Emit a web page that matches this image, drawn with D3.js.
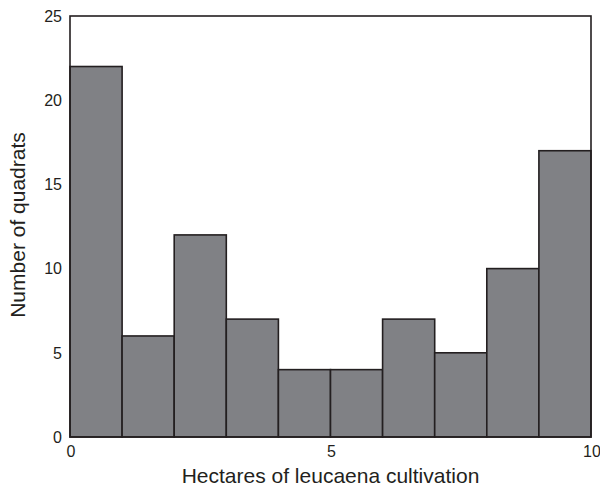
<!DOCTYPE html>
<html><head><meta charset="utf-8">
<script src="https://cdn.jsdelivr.net/npm/d3@7"></script>
<style>body{margin:0;background:#fff}svg{display:block}text{font-family:"Liberation Sans",Arial,sans-serif;fill:#231f20}</style>
</head><body>
<script>
const binStarts = [0,1,2,3,4,5,6,7,8,9];
const counts = [22,6,12,7,4,4,7,5,10,17];
const xTicks = [0,5,10];
const yTicks = [0,5,10,15,20,25];

const W=600,H=488;
const m={l:70,r:9,t:16,b:51};
const svg=d3.select("body").append("svg").attr("width",W).attr("height",H);
const x=d3.scaleLinear().domain([0,10]).range([m.l,W-m.r]);
const y=d3.scaleLinear().domain([0,25]).range([H-m.b,m.t]);

svg.append("g").selectAll("rect").data(binStarts).join("rect")
 .attr("x",d=>x(d)).attr("width",d=>x(d+1)-x(d))
 .attr("y",(d,i)=>y(counts[i])).attr("height",(d,i)=>y(0)-y(counts[i]))
 .attr("fill","#808185").attr("stroke","#231f20").attr("stroke-width",1.6);

svg.append("rect").attr("x",x(0)).attr("y",y(25)).attr("width",x(10)-x(0)).attr("height",y(0)-y(25))
 .attr("fill","none").attr("stroke","#231f20").attr("stroke-width",1.6);

svg.append("g").selectAll("text").data(yTicks).join("text")
 .attr("x",x(0)-8).attr("y",d=>y(d)).attr("dy","0.36em").attr("text-anchor","end")
 .attr("font-size",16).text(d=>d);
svg.append("g").selectAll("text").data(xTicks).join("text")
 .attr("x",d=>x(d)+1).attr("y",y(0)+20).attr("text-anchor","middle")
 .attr("font-size",16).text(d=>d);

svg.append("text").attr("x",(x(0)+x(10))/2).attr("y",483).attr("text-anchor","middle")
 .attr("font-size",21).text("Hectares of leucaena cultivation");
svg.append("text").attr("transform",`translate(25,225) rotate(-90)`).attr("text-anchor","middle")
 .attr("font-size",21).text("Number of quadrats");
</script>
</body></html>
